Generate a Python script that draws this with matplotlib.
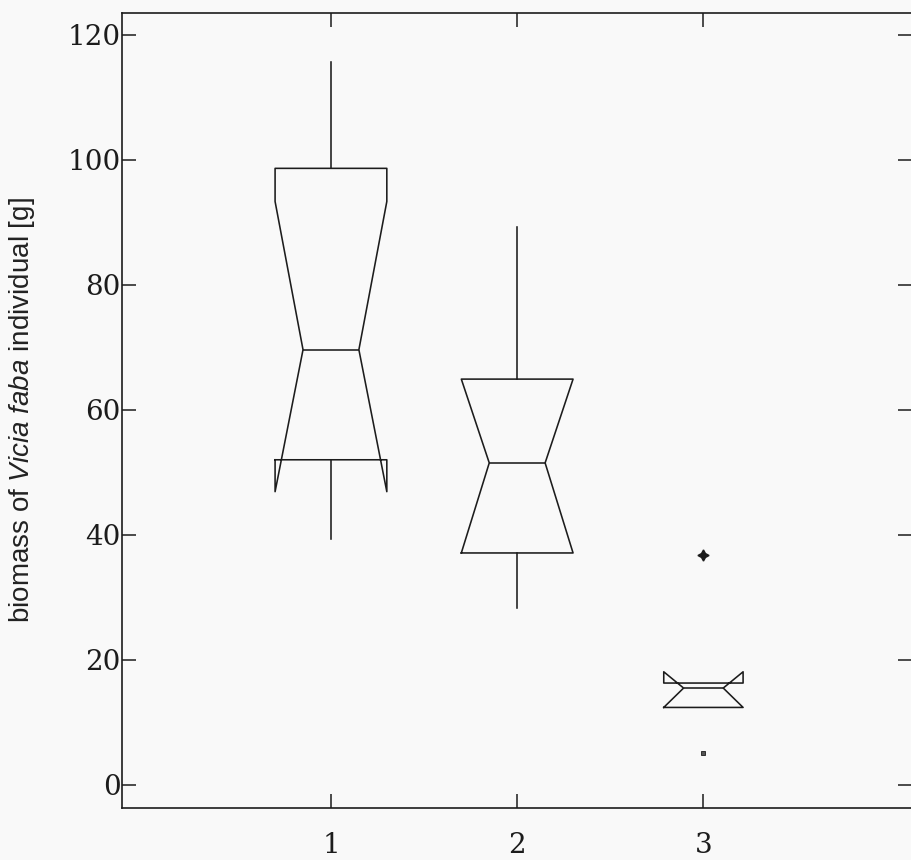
import numpy as np
from matplotlib import pyplot as plt

plt.rcParams['mathtext.fontset'] = 'custom'
plt.rcParams['mathtext.rm'] = 'Liberation Sans'
plt.rcParams['mathtext.it'] = 'Liberation Sans:italic'

# box statistics (biomass in g)
groups = [1, 2, 3]
medians = [69.6, 51.5, 15.5]
q1s = [52.0, 37.1, 12.4]
q3s = [98.6, 64.9, 16.3]
whis_lo = [39.3, 28.3, 12.4]
whis_hi = [115.6, 89.3, 16.3]
notch_lo = [46.9, 37.1, 12.4]
notch_hi = [93.3, 64.9, 18.1]
box_widths = [0.6, 0.6, 0.426]

# outliers of group 3
far_x = [3]
far_y = [36.8]
near_x = [3]
near_y = [5.1]

y_ticks = [0, 20, 40, 60, 80, 100, 120]

ink = '#1c1c1c'
paper = '#f9f9f9'

stats = []
for i in range(len(groups)):
    stats.append(dict(med=medians[i], q1=q1s[i], q3=q3s[i],
                      whislo=whis_lo[i], whishi=whis_hi[i],
                      cilo=notch_lo[i], cihi=notch_hi[i], fliers=[]))

fig = plt.figure(figsize=(9.11, 8.6), dpi=100, facecolor=paper)
ax = fig.add_axes([122/911, 52/860, 790/911, 795/860])
ax.set_facecolor(paper)

lw = 1.15
ax.bxp(stats, positions=groups, widths=box_widths, shownotches=True,
       showcaps=False, showfliers=False,
       boxprops=dict(color=ink, linewidth=lw),
       whiskerprops=dict(color=ink, linewidth=lw),
       medianprops=dict(color=ink, linewidth=lw))

ax.plot(far_x, far_y, linestyle='none', marker=(4, 1, 0), markersize=8,
        color=ink)
ax.plot(near_x, near_y, linestyle='none', marker='s', markersize=3,
        markerfacecolor='#555555', markeredgecolor=ink, markeredgewidth=0.6)

ax.set_xlim(-0.122, 4.12)
ax.set_ylim(-3.68, 123.44)
ax.set_xticks(groups)
ax.set_xticklabels([str(g) for g in groups])
ax.set_yticks(y_ticks)

for s in ax.spines.values():
    s.set_color(ink)
    s.set_linewidth(1.2)

ax.tick_params(axis='both', direction='in', length=10, width=1.1, color=ink,
               top=True, right=True)
ax.tick_params(axis='y', pad=1)
ax.tick_params(axis='x', pad=17)
for lab in ax.get_xticklabels() + ax.get_yticklabels():
    lab.set_fontfamily('DejaVu Serif')
    lab.set_fontsize(20)
    lab.set_color(ink)

ax.set_ylabel(r'biomass of $\mathit{Vicia\ faba}$ individual [g]',
              fontfamily='Liberation Sans', fontsize=20, color='#222222')
ax.yaxis.set_label_coords(-0.108, 0.5)

fig.savefig('out.png', dpi=100, facecolor=paper)
